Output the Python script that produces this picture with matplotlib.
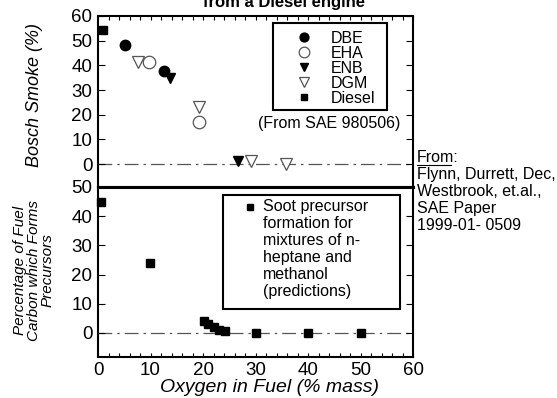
#----- importing modules -----
import matplotlib
matplotlib.use("Agg")
import matplotlib.pyplot as plt
from matplotlib.ticker import MultipleLocator
from matplotlib.lines import Line2D
from matplotlib.patches import Rectangle

plt.rcParams['font.family'] = ['Liberation Sans', 'DejaVu Sans']

#----- data -----
dbe_x = [5.1, 12.6]
dbe_y = [48.2, 37.8]
eha_x = [9.7, 19.2]
eha_y = [41.3, 17.1]
enb_x = [13.8, 26.7]
enb_y = [34.7, 1.1]
dgm_x = [7.7, 19.3, 29.1, 35.9]
dgm_y = [41.2, 23.2, 1.1, 0.0]
diesel_x = [0.9]
diesel_y = [54.2]

soot_x = [0.6, 9.9, 20.1, 21.0, 22.1, 23.1, 24.1, 30.1, 40.0, 50.0]
soot_y = [45.0, 23.8, 4.2, 3.1, 2.0, 1.0, 0.5, 0.1, 0.1, 0.1]

xticks = [0, 10, 20, 30, 40, 50, 60]
top_yticks = [0, 10, 20, 30, 40, 50, 60]
bot_yticks = [0, 10, 20, 30, 40, 50]

W, H = 557, 398
fig = plt.figure(figsize=(W / 100, H / 100), dpi=100)
ax1 = fig.add_axes([0.176, 0.5302, 0.5655, 0.4296])
ax2 = fig.add_axes([0.176, 0.1018, 0.5655, 0.4284])

zero_style = dict(color='#555555', linewidth=0.9, linestyle=(0, (11, 4, 2, 4)), zorder=1)

#----- top panel: Bosch smoke -----
ax1.axhline(0, **zero_style)
ax1.plot(dbe_x, dbe_y, 'o', color='black', ms=7.5, label='DBE', zorder=3)
ax1.plot(eha_x, eha_y, 'o', mfc='white', mec='#555555', mew=0.9, ms=9, label='EHA', zorder=3)
ax1.plot(enb_x, enb_y, 'v', color='black', ms=7.5, label='ENB', zorder=3)
ax1.plot(dgm_x, dgm_y, 'v', mfc='white', mec='#555555', mew=0.9, ms=8.5, label='DGM', zorder=3)
ax1.plot(diesel_x, diesel_y, 's', color='black', ms=5.5, label='Diesel', zorder=3, clip_on=False)
ax1.set_xlim(0, 60)
ax1.set_ylim(-9.3, 60)
ax1.set_yticks(top_yticks)
ax1.set_yticklabels([str(v) for v in top_yticks], fontsize=13.5)
ax1.set_xticks(xticks)
ax1.xaxis.set_minor_locator(MultipleLocator(2))
ax1.tick_params(axis='x', which='both', bottom=False, top=True, labelbottom=False,
                direction='in', length=3, width=0.8)
ax1.tick_params(axis='y', direction='in', length=5, width=0.8, left=True, right=True, pad=4)
ax1.set_ylabel('Bosch Smoke (%)', fontsize=13, style='italic')
ax1.yaxis.set_label_coords(-0.175, 0.538)
leg1 = ax1.legend(loc='upper left', bbox_to_anchor=(0.617, 0.914), borderaxespad=0,
                  fontsize=11.5, frameon=False, handletextpad=0.9, labelspacing=0.0,
                  borderpad=0, handlelength=1.5, markerscale=0.85)
ax1.add_patch(Rectangle((0.556, 0.450), 0.361, 0.509, transform=ax1.transAxes,
                        fill=False, edgecolor='black', linewidth=1.5, zorder=4))
ax1.text(0.733, 0.374, '(From SAE 980506)', transform=ax1.transAxes, fontsize=11.5,
         ha='center', va='center')

#----- bottom panel: soot precursors -----
ax2.axhline(0, **zero_style)
ax2.plot(soot_x, soot_y, 's', color='black', ms=6,
         label='Soot precursor\nformation for\nmixtures of n-\nheptane and\nmethanol\n(predictions)',
         zorder=3, clip_on=False)
ax2.set_xlim(0, 60)
ax2.set_ylim(-8.4, 50)
ax2.set_xticks(xticks)
ax2.set_xticklabels([str(v) for v in xticks], fontsize=13.5)
ax2.xaxis.set_minor_locator(MultipleLocator(2))
ax2.tick_params(axis='x', which='both', direction='in', length=3, width=0.8, pad=3)
ax2.set_yticks(bot_yticks)
ax2.set_yticklabels([str(v) for v in bot_yticks], fontsize=13.5)
ax2.tick_params(axis='y', direction='in', length=5, width=0.8, left=True, right=True, pad=4)
ax2.set_xlabel('Oxygen in Fuel (% mass)', fontsize=14, style='italic')
ax2.xaxis.set_label_coords(0.543, -0.126)
ax2.set_ylabel('Percentage of Fuel\nCarbon which Forms\nPrecursors', fontsize=11,
               style='italic', linespacing=1.0)
ax2.yaxis.set_label_coords(-0.137, 0.51)
leg2 = ax2.legend(loc='upper left', bbox_to_anchor=(0.458, 0.93), borderaxespad=0,
                  fontsize=11.5, frameon=False, handletextpad=0.33, borderpad=0,
                  handlelength=0.96, markerscale=0.8)
for t in leg2.get_texts():
    t.set_linespacing(1.16)
# move the legend marker up to the first text line
mk = leg2.legend_handles[0]
mk.set_ydata([y + 30.5 for y in mk.get_ydata()])
ax2.add_patch(Rectangle((0.397, 0.284), 0.562, 0.669, transform=ax2.transAxes,
                        fill=False, edgecolor='black', linewidth=1.5, zorder=4))

for ax in (ax1, ax2):
    for s in ax.spines.values():
        s.set_linewidth(1.5)
ax2.spines['top'].set_linewidth(2.2)
ax1.spines['bottom'].set_linewidth(2.2)

#----- title (cut off at the top) and source note -----
fig.text(284 / W, 1 - 6.5 / H, 'from a Diesel engine', fontsize=12, fontweight='bold',
         ha='center', va='baseline')
note_x = 417 / W
fig.text(note_x, 1 - 162 / H, 'From:', fontsize=11.5, ha='left', va='baseline')
fig.add_artist(Line2D([note_x, note_x + 34 / W], [1 - 164.5 / H, 1 - 164.5 / H],
                      color='black', linewidth=0.8))
note_lines = ['Flynn, Durrett, Dec,', 'Westbrook, et.al.,', 'SAE Paper', '1999-01- 0509']
for i, line in enumerate(note_lines):
    fig.text(note_x, 1 - (179 + 17 * i) / H, line, fontsize=11.5, ha='left', va='baseline')

fig.savefig('out.png', dpi=100)
